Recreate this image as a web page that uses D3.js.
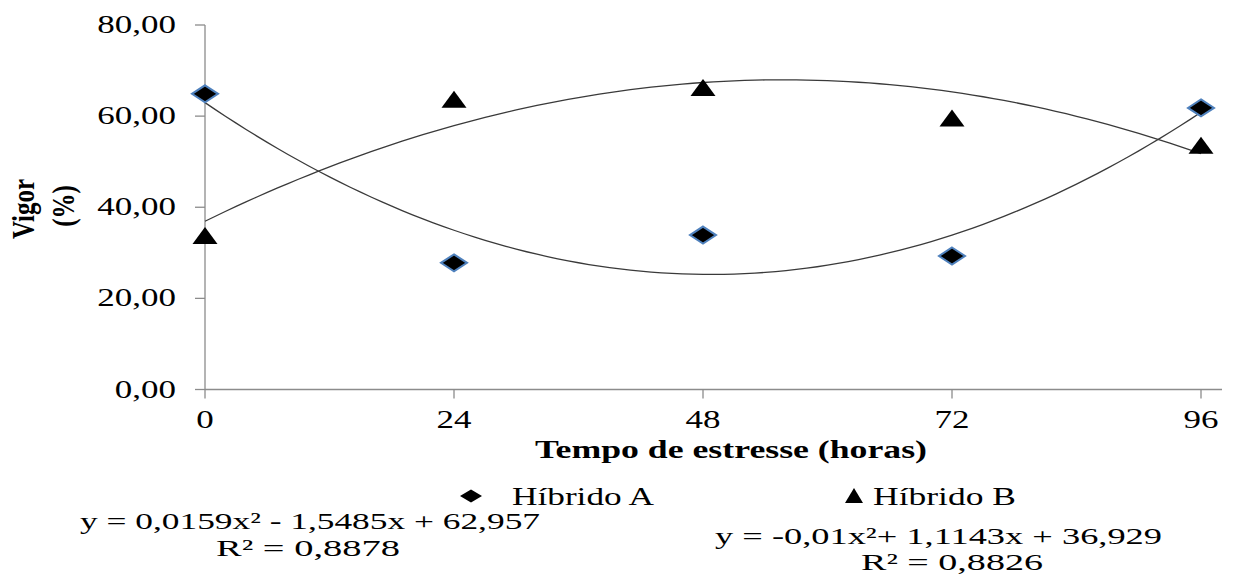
<!DOCTYPE html>
<html>
<head>
<meta charset="utf-8">
<script src="https://cdn.jsdelivr.net/npm/d3@7"></script>
<style>
  body { margin: 0; background: #fff; }
  text { font-family: "Liberation Serif", "Times New Roman", serif; fill: #000; }
</style>
</head>
<body>
<div id="chart"></div>
<script>
// data
let horas = [0, 24, 48, 72, 96]
let hibridoA = [64.9, 27.8, 33.9, 29.3, 61.8]
let hibridoB = [33.7, 63.6, 66.2, 59.5, 53.5]
let yTicks = [0, 20, 40, 60, 80]
let series = ["Híbrido A", "Híbrido B"]
// trend lines as printed under the chart
let coefA = [0.0159, -1.5485, 62.957]
let coefB = [-0.01, 1.1143, 36.929]
let eqA = ["y = 0,0159x² - 1,5485x + 62,957", "R² = 0,8878"]
let eqB = ["y = -0,01x²+ 1,1143x + 36,929", "R² = 0,8826"]

let width = 1233, height = 583

let svg = d3.select("#chart").append("svg")
    .attr("width", width)
    .attr("height", height)

let x = d3.scaleLinear().domain([0, 96]).range([205, 1201])
let y = d3.scaleLinear().domain([0, 80]).range([389.5, 25])

let axisColor = "#8c8c8c"

// the original picture is stretched sideways, so texts get a forced width
function label(px, py, str, size, len, anchor, bold) {
    let t = svg.append("text")
        .attr("x", px).attr("y", py)
        .attr("font-size", size)
        .attr("text-anchor", anchor || "start")
        .text(str)
    if (len) t.attr("textLength", len).attr("lengthAdjust", "spacingAndGlyphs")
    if (bold) t.attr("font-weight", "bold")
    return t
}

// y axis
svg.append("line")
    .attr("x1", x(0)).attr("x2", x(0))
    .attr("y1", y(80)).attr("y2", y(0))
    .attr("stroke", axisColor).attr("stroke-width", 1.3)

yTicks.forEach(t => {
    svg.append("line")
        .attr("x1", x(0) - 10).attr("x2", x(0))
        .attr("y1", y(t)).attr("y2", y(t))
        .attr("stroke", axisColor).attr("stroke-width", 1.3)
    svg.append("text")
        .attr("transform", "translate(176," + (y(t) + 8) + ") scale(1.4,1)")
        .attr("text-anchor", "end")
        .attr("font-size", 25)
        .text(d3.format(".2f")(t).replace(".", ","))
})

// x axis
svg.append("line")
    .attr("x1", x(0)).attr("x2", 1222)
    .attr("y1", y(0)).attr("y2", y(0))
    .attr("stroke", axisColor).attr("stroke-width", 1.3)

horas.forEach(h => {
    svg.append("line")
        .attr("x1", x(h)).attr("x2", x(h))
        .attr("y1", y(0)).attr("y2", y(0) + 9)
        .attr("stroke", axisColor).attr("stroke-width", 1.3)
    svg.append("text")
        .attr("transform", "translate(" + x(h) + ",428) scale(1.4,1)")
        .attr("text-anchor", "middle")
        .attr("font-size", 25)
        .text(h)
})

// trend curves
let grid = d3.range(0, 96.5, 1)
function quad(c) {
    return d => y(c[0] * d * d + c[1] * d + c[2])
}
let line = d3.line().x(d => x(d))

svg.append("path")
    .attr("d", line.y(quad(coefA))(grid))
    .attr("fill", "none").attr("stroke", "#3a3a3a").attr("stroke-width", 1.3)
svg.append("path")
    .attr("d", line.y(quad(coefB))(grid))
    .attr("fill", "none").attr("stroke", "#3a3a3a").attr("stroke-width", 1.3)

// markers
let diamond = "M0,-8.5L13,0L0,8.5L-13,0Z"
let triangle = "M0,-9L12.5,8L-12.5,8Z"

svg.selectAll(".ptA").data(hibridoA).enter()
    .append("path")
    .attr("class", "ptA")
    .attr("d", diamond)
    .attr("transform", (d, i) => "translate(" + x(horas[i]) + "," + y(d) + ")")
    .attr("fill", "#000")
    .attr("stroke", "#4f81bd").attr("stroke-width", 2)

svg.selectAll(".ptB").data(hibridoB).enter()
    .append("path")
    .attr("class", "ptB")
    .attr("d", triangle)
    .attr("transform", (d, i) => "translate(" + x(horas[i]) + "," + y(d) + ")")
    .attr("fill", "#000")

// axis titles
label(731, 458, "Tempo de estresse (horas)", 25, 392, "middle", true)

svg.append("text")
    .attr("transform", "translate(34,209) rotate(-90) scale(1,1.25)")
    .attr("text-anchor", "middle")
    .attr("font-size", 25).attr("font-weight", "bold")
    .text("Vigor")
svg.append("text")
    .attr("transform", "translate(74,206) rotate(-90) scale(1,1.25)")
    .attr("text-anchor", "middle")
    .attr("font-size", 25).attr("font-weight", "bold")
    .text("(%)")

// legend
svg.append("path")
    .attr("d", "M0,-6.5L11,0L0,6.5L-11,0Z")
    .attr("transform", "translate(471,496)")
    .attr("fill", "#000")
label(512, 505, series[0], 25, 142)

svg.append("path")
    .attr("d", "M0,-8L9,7L-9,7Z")
    .attr("transform", "translate(854,496)")
    .attr("fill", "#000")
label(873, 505, series[1], 25, 143)

// equations
label(80, 529, eqA[0], 23, 460)
label(308, 556, eqA[1], 23, 184, "middle")

label(715, 544, eqB[0], 23, 447)
label(952, 570, eqB[1], 23, 182, "middle")
</script>
</body>
</html>
